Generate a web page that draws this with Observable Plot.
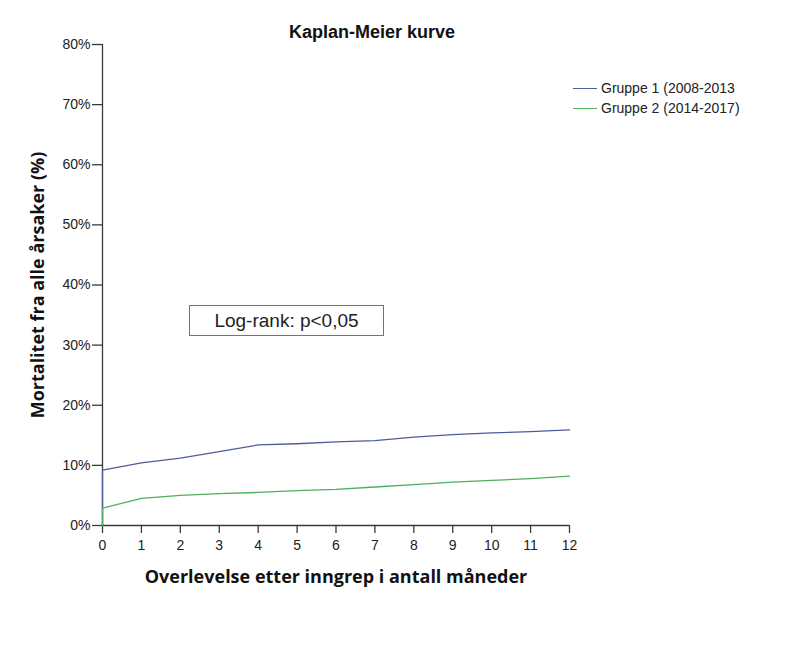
<!DOCTYPE html>
<html>
<head>
<meta charset="utf-8">
<script src="https://cdn.jsdelivr.net/npm/d3@7"></script>
<script src="https://cdn.jsdelivr.net/npm/@observablehq/plot@0.6"></script>
<style>
  html, body { margin: 0; padding: 0; background: #fff; }
  #wrap { position: relative; width: 796px; height: 658px; overflow: hidden; font-family: "Liberation Sans", Arial, sans-serif; }
  #title { position: absolute; left: 372px; top: 22px; transform: translateX(-50%); font-size: 18px; font-weight: bold; color: #111; white-space: nowrap; }
  #legend { position: absolute; left: 573px; top: 78px; font-size: 14px; color: #222; }
  .item { display: flex; align-items: center; height: 20px; white-space: nowrap; }
  .swatch { width: 24px; height: 0; border-top: 1.3px solid; margin-right: 4px; }
  #note { position: absolute; left: 189px; top: 305px; width: 193px; height: 29px; border: 1.4px solid #4f7ba6; display: flex; align-items: center; justify-content: center; font-size: 19px; color: #222; background: #fff; box-sizing: content-box; }
</style>
</head>
<body>
<div id="wrap">
  <div id="title"></div>
  <div id="chart"></div>
  <div id="legend"></div>
  <div id="note"></div>
</div>
<script>
// ---- data ----
const titleText = "Kaplan-Meier kurve";
const xLabel = "Overlevelse etter inngrep i antall måneder";
const yLabel = "Mortalitet fra alle årsaker (%)";
const noteText = "Log-rank: p<0,05";
const groups = ["Gruppe 1 (2008-2013", "Gruppe 2 (2014-2017)"];
const colors = ["#4e5c9c", "#4fae5e"];
const months = [0, 0, 1, 2, 3, 4, 5, 6, 7, 8, 9, 10, 11, 12];
const gruppe1 = [0, 9.2, 10.4, 11.2, 12.3, 13.4, 13.6, 13.9, 14.1, 14.7, 15.1, 15.4, 15.6, 15.9];
const gruppe2 = [0, 2.9, 4.5, 5.0, 5.3, 5.5, 5.8, 6.0, 6.4, 6.8, 7.2, 7.5, 7.8, 8.2];
const xTicks = [0, 1, 2, 3, 4, 5, 6, 7, 8, 9, 10, 11, 12];
const yTicks = [0, 10, 20, 30, 40, 50, 60, 70, 80];

const rows = [];
[gruppe1, gruppe2].forEach((series, gi) => {
  series.forEach((v, i) => rows.push({ group: groups[gi], month: months[i], value: v }));
});

const axisColor = "#3a3a3a";
const tickFont = "Liberation Sans, Arial, sans-serif";
const labelFont = "Open Sans, sans-serif";
const chart = Plot.plot({
  width: 796,
  height: 658,
  marginLeft: 102,
  marginRight: 227,
  marginTop: 44,
  marginBottom: 133,
  style: { background: "transparent", fontFamily: tickFont },
  x: { domain: [0, 12] },
  y: { domain: [0, 80] },
  color: { domain: groups, range: colors },
  marks: [
    Plot.ruleX([0], { stroke: axisColor, strokeWidth: 1.3 }),
    Plot.ruleY([0], { stroke: axisColor, strokeWidth: 1.3 }),
    Plot.axisY({ ticks: yTicks, tickFormat: d => d + "%", tickSize: 10, tickPadding: 2, fontSize: 14, stroke: axisColor, strokeWidth: 1.3, fill: "#222", label: null }),
    Plot.axisX({ ticks: xTicks, tickSize: 8, tickPadding: 7, fontSize: 14, stroke: axisColor, strokeWidth: 1.3, fill: "#222", label: null }),
    Plot.line(rows, { x: "month", y: "value", z: "group", stroke: "group", strokeWidth: 1.3 }),
    Plot.text([yLabel], { text: d => d, frameAnchor: "left", dx: -64, rotate: -90, textAnchor: "middle", lineAnchor: "middle", fontSize: 18, fontWeight: "bold", fontFamily: labelFont, fill: "#111" }),
    Plot.text([xLabel], { text: d => d, frameAnchor: "bottom", dy: 52, textAnchor: "middle", lineAnchor: "middle", fontSize: 18, fontWeight: "bold", fontFamily: labelFont, fill: "#111" })
  ]
});
document.getElementById("chart").appendChild(chart);

document.getElementById("title").textContent = titleText;
document.getElementById("note").textContent = noteText;
const legend = document.getElementById("legend");
groups.forEach((g, i) => {
  const item = document.createElement("div");
  item.className = "item";
  const sw = document.createElement("span");
  sw.className = "swatch";
  sw.style.borderTopColor = colors[i];
  const label = document.createElement("span");
  label.textContent = g;
  item.appendChild(sw);
  item.appendChild(label);
  legend.appendChild(item);
});
</script>
</body>
</html>
